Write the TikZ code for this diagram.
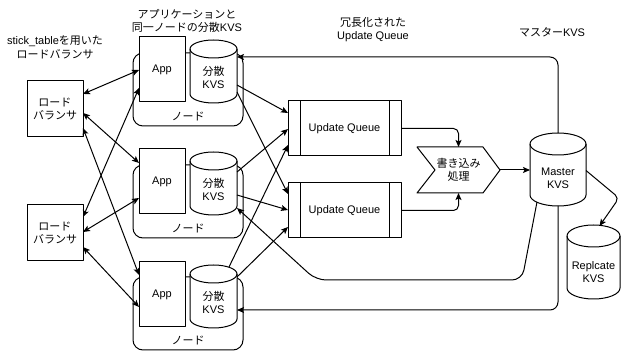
\documentclass[tikz,border=0pt]{standalone}
\usepackage{fontspec}
\setmainfont{Liberation Sans}
\newfontfamily\jp{Noto Sans CJK JP}
\usetikzlibrary{calc,arrows.meta}
\pgfdeclarelayer{bg}
\pgfdeclarelayer{mid}
\pgfsetlayers{bg,mid,main}
\newcommand\lbl{\fontsize{11}{13.5}\selectfont}
\newcommand\cylshape[2]{%
  \begin{pgfonlayer}{mid}
  \path[draw, line width=1pt, fill=white] let \p1=(#1.north west), \p2=(#1.south east), \n1={(\x2-\x1)/2} in
    (\x1,\y1-#2) -- (\x1,\y2+#2) arc[start angle=180,end angle=360,x radius=\n1,y radius=#2]
    -- (\x2,\y1-#2) arc[start angle=0,end angle=180,x radius=\n1,y radius=#2] -- cycle;
  \path[draw, line width=1pt] let \p1=(#1.north west), \p2=(#1.south east), \n1={(\x2-\x1)/2} in
    (\x1,\y1-#2) arc[start angle=180,end angle=360,x radius=\n1,y radius=#2];
  \end{pgfonlayer}}
\tikzset{
  tipa/.tip={Stealth[length=7pt,width=6pt,inset=1.5pt]},
  ln/.style={line width=1pt, line join=round},
  arr/.style={ln, -tipa},
  dbl/.style={ln, tipa-tipa},
  boxn/.style={draw, ln, fill=white, inner sep=0pt, outer sep=0pt, font=\lbl, align=center, anchor=north west},
  grp/.style={boxn, rounded corners=10pt},
  cylnode/.style={inner sep=0pt, outer sep=0pt, anchor=north west, font=\lbl, align=center},
  txt/.style={font=\lbl, align=center, inner sep=0pt},
  jpn/.style={font=\lbl\jp},
}
\begin{document}
\begin{tikzpicture}[x=1pt,y=1pt]
\useasboundingbox (0,0) rectangle (621,-352);

% titles
\node[txt] (t1) at (55,-47.5) {stick\_table{\jp を用いた}\\{\jp ロードバランサ}};
\node[txt] (t2) at (187,-21) {{\jp アプリケーションと}\\{\jp 同一ノードの分散}KVS};
\node[txt] (t3) at (373,-29.5) {{\jp 冗長化された}\\Update Queue};
\node[txt] (t4) at (552,-32) {{\jp マスター}KVS};

% load balancers
\node[boxn, jpn, minimum width=56pt, minimum height=56pt] (lb1) at (27,-81) {ロード\\バランサ};
\node[boxn, jpn, minimum width=56pt, minimum height=56pt] (lb2) at (27,-205) {ロード\\バランサ};

% node groups
\begin{pgfonlayer}{bg}
\node[grp, minimum width=110pt, minimum height=73pt] (g1) at (133,-53) {};
\node[grp, minimum width=110pt, minimum height=73pt] (g2) at (133,-165) {};
\node[grp, minimum width=110pt, minimum height=73pt] (g3) at (133,-277) {};
\end{pgfonlayer}
\node[txt, jpn] (g1t) at ($(g1.south)+(0,9)$) {ノード};
\node[txt, jpn] (g2t) at ($(g2.south)+(0,9)$) {ノード};
\node[txt, jpn] (g3t) at ($(g3.south)+(0,9)$) {ノード};

% apps
\node[boxn, minimum width=46pt, minimum height=65pt] (app1) at (139,-37) {App};
\node[boxn, minimum width=46pt, minimum height=65pt] (app2) at (139,-149) {App};
\node[boxn, minimum width=46pt, minimum height=65pt] (app3) at (139,-262) {App};

% distributed KVS
\node[cylnode, minimum width=47pt, minimum height=63pt] (kvs1) at (190,-40) {};
\node[cylnode, minimum width=47pt, minimum height=63pt] (kvs2) at (190,-152) {};
\node[cylnode, minimum width=47pt, minimum height=63pt] (kvs3) at (190,-265) {};
\cylshape{kvs1}{9pt}
\cylshape{kvs2}{9pt}
\cylshape{kvs3}{9pt}
\node[txt] (kvs1t) at ($(kvs1.center)+(0,-6)$) {{\jp 分散}\\KVS};
\node[txt] (kvs2t) at ($(kvs2.center)+(0,-6)$) {{\jp 分散}\\KVS};
\node[txt] (kvs3t) at ($(kvs3.center)+(0,-6)$) {{\jp 分散}\\KVS};

% update queues
\node[boxn, minimum width=113pt, minimum height=55pt] (uq1) at (288,-101) {Update Queue};
\node[boxn, minimum width=113pt, minimum height=55pt] (uq2) at (288,-183) {Update Queue};
\draw[ln] ($(uq1.north west)+(12,0)$) -- ($(uq1.south west)+(12,0)$);
\draw[ln] ($(uq1.north east)+(-12,0)$) -- ($(uq1.south east)+(-12,0)$);
\draw[ln] ($(uq2.north west)+(12,0)$) -- ($(uq2.south west)+(12,0)$);
\draw[ln] ($(uq2.north east)+(-12,0)$) -- ($(uq2.south east)+(-12,0)$);

% write process
\node[cylnode, jpn, minimum width=83pt, minimum height=46pt] (wr) at (417,-147) {書き込み\\処理};
\draw[ln] (wr.north west) -- ($(wr.north east)+(-17,0)$) -- (wr.east) -- ($(wr.south east)+(-17,0)$)
  -- (wr.south west) -- ($(wr.west)+(18,0)$) -- cycle;

% master and replicate
\node[cylnode, minimum width=56pt, minimum height=73pt] (mkvs) at (530,-133) {};
\node[cylnode, minimum width=53pt, minimum height=74pt] (rkvs) at (567,-225) {};
\cylshape{mkvs}{11pt}
\cylshape{rkvs}{11pt}
\node[txt] (mkvst) at ($(mkvs.center)+(0,-9)$) {Master\\KVS};
\node[txt] (rkvst) at ($(rkvs.center)+(0,-10)$) {Replcate\\KVS};

% LB <-> App
\draw[dbl] ($(lb1.north east)+(0,-13)$) -- ($(app1.north west)+(0,-33)$);
\draw[dbl] ($(lb1.north east)+(0,-32)$) -- ($(app2.north west)+(0,-14)$);
\draw[dbl] ($(lb1.north east)+(0,-47)$) -- ($(app3.north west)+(0,-13)$);
\draw[dbl] ($(lb2.north east)+(0,-12)$) -- ($(app1.north west)+(0,-51)$);
\draw[dbl] ($(lb2.north east)+(0,-27)$) -- ($(app2.north west)+(0,-49)$);
\draw[dbl] ($(lb2.north east)+(0,-42)$) -- ($(app3.north west)+(0,-45)$);

% KVS -> update queues
\draw[arr] ($(kvs1.north east)+(0,-45)$) -- ($(uq1.north west)+(0,-12)$);
\draw[arr] ($(kvs1.north east)+(0,-52)$) -- ($(uq2.north west)+(0,-11)$);
\draw[arr] ($(kvs2.north east)+(0,-20)$) -- ($(uq1.north west)+(0,-28)$);
\draw[arr] ($(kvs2.north east)+(0,-43)$) -- ($(uq2.north west)+(0,-27)$);
\draw[arr] ($(kvs3.north east)+(-8,-2)$) -- ($(uq1.north west)+(0,-44)$);
\draw[arr] ($(kvs3.north east)+(0,-12)$) -- ($(uq2.north west)+(0,-44)$);

% queues -> write -> master -> replicate
\draw[arr, rounded corners=5pt] (uq1.east) -| (wr.north);
\draw[arr, rounded corners=5pt] (uq2.east) -| (wr.south);
\draw[arr] (wr.east) -- (wr.east -| mkvs.west);
\coordinate (rbend) at (619,-198);
\draw[arr, rounded corners=5pt] ($(mkvs.east)+(0,-1)$) -- (rbend) -- ($(rkvs.north)+(6,-1)$);

% master -> KVS
\draw[arr, rounded corners=8pt] (mkvs.north) |- ($(kvs1.north east)+(0,-17)$);
\draw[arr, rounded corners=8pt] (mkvs.south) |- ($(kvs3.north east)+(0,-45)$);
\coordinate (m2a) at (522,-280);
\coordinate (m2b) at (316,-280);
\draw[arr, rounded corners=10pt] ($(mkvs.south west)+(7,4)$) -- (m2a) -- (m2b) -- ($(kvs2.north east)+(0,-56)$);
\end{tikzpicture}
\end{document}
